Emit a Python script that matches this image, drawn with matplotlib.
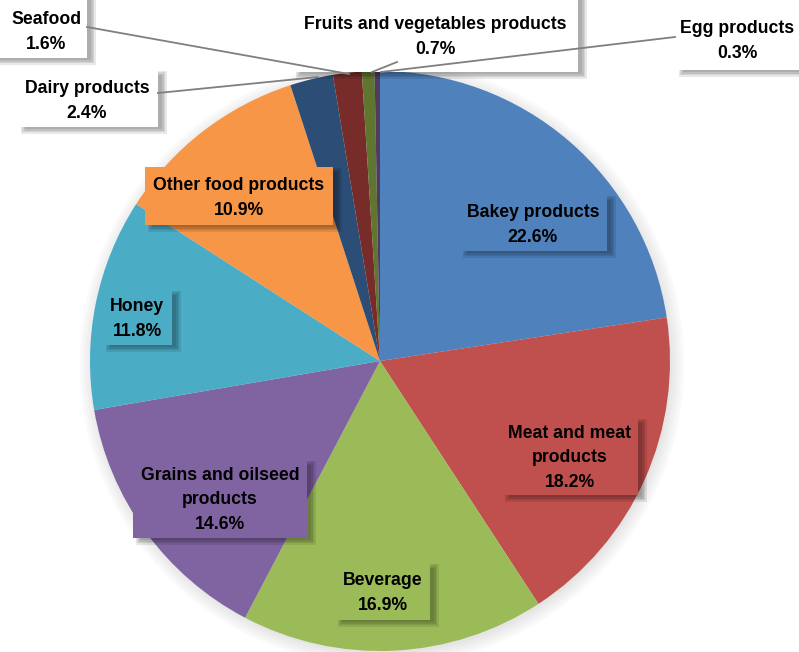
import matplotlib
matplotlib.use("Agg")
import matplotlib.pyplot as plt
from matplotlib.patches import Rectangle, Circle

# slice data, clockwise from 12 o'clock
names = ["Bakey products", "Meat and meat\nproducts", "Beverage",
         "Grains and oilseed\nproducts", "Honey", "Other food products",
         "Dairy products", "Seafood", "Fruits and vegetables products",
         "Egg products"]
shares = [22.6, 18.2, 16.9, 14.6, 11.8, 10.9, 2.4, 1.6, 0.7, 0.3]
colors = ["#4F81BD", "#C0504D", "#9BBB59", "#8064A2", "#4BACC6", "#F79646",
          "#2C4D75", "#772C2A", "#5F7530", "#4D3B62"]

# label boxes in pixels: (left, top, right, bottom), y measured from top
boxes = [(460, 195, 607, 251), (502, 418, 638, 495), (335, 563, 430, 620),
         (133, 460, 307, 538), (103, 290, 172, 345), (145, 167, 333, 225),
         (18, 70, 158, 127), (-10, -10, 87, 58), (293, -10, 578, 72),
         (676, -10, 815, 70)]
text_xy = [(533, 225), (570, 458), (383, 593), (220, 500), (137, 319),
           (239, 198), (87, 101), (46, 32), (435, 37), (737, 41)]
outside = [False, False, False, False, False, False, True, True, True, True]
# leader lines for the small slices: (box end, slice end)
leaders = {6: ((158, 93), (318, 77)), 7: ((87, 27), (349, 74)),
           8: ((397, 62), (372, 72)), 9: ((675, 37), (381, 72))}

W, H = 799, 652
plt.rcParams["font.family"] = ["Liberation Sans", "DejaVu Sans"]

fig = plt.figure(figsize=(W / 100, H / 100), dpi=100)
ax = fig.add_axes([0, 0, 1, 1])

cx, cy, r = 380, 361, 290

# soft shadow behind the pie
for k in range(5):
    ax.add_patch(Circle((cx + 2, H - cy - 3), r + 12 - 3 * k, color="#7f7f7f",
                        alpha=0.04, lw=0, zorder=0))

ax.pie(shares, colors=colors, startangle=90, counterclock=False,
       center=(cx, H - cy), radius=r, frame=True,
       wedgeprops=dict(linewidth=0))
ax.set_xlim(0, W)
ax.set_ylim(0, H)
ax.set_aspect("equal")
ax.axis("off")

for i, name in enumerate(names):
    x0, y0, x1, y1 = boxes[i]
    fc = "white" if outside[i] else colors[i]
    # blurred drop shadow
    for k in range(4):
        g = 1.5 * k
        ax.add_patch(Rectangle((x0 + 4 - g + 3, H - y1 - 5 - g + 3),
                               x1 - x0 + 2 * g - 3, y1 - y0 + 2 * g - 3,
                               fc="#000000", ec="none", alpha=0.09, zorder=4))
    ax.add_patch(Rectangle((x0, H - y1), x1 - x0, y1 - y0, fc=fc, ec="none", zorder=5))
    tx, ty = text_xy[i]
    ax.text(tx, H - ty, f"{name}\n{shares[i]}%", ha="center", va="center",
            fontsize=12.7, fontweight="bold", color="black", linespacing=1.55,
            zorder=6)

# leader lines sit on top of the boxes
for i, (p1, p2) in leaders.items():
    ax.plot([p1[0], p2[0]], [H - p1[1], H - p2[1]], color="#7f7f7f", lw=1.3, zorder=7)

fig.savefig("out.png", dpi=100)
